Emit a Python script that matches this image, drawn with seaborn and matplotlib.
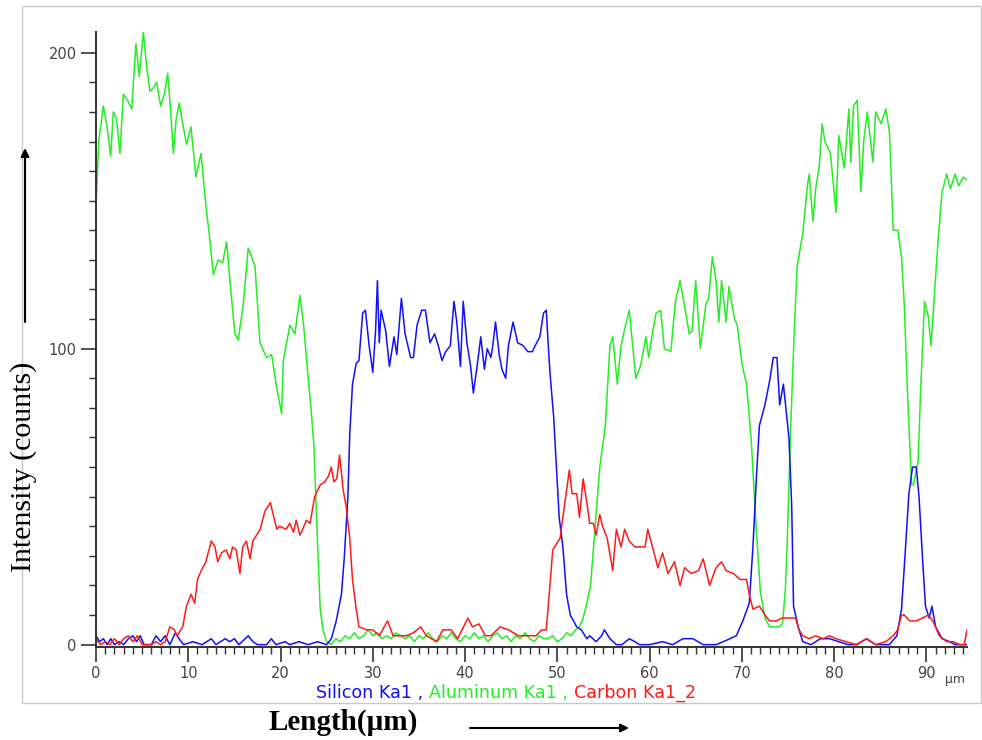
import matplotlib
matplotlib.use("Agg")
import matplotlib.pyplot as plt
import seaborn as sns
import pandas as pd
from matplotlib.patches import Rectangle, FancyArrowPatch
from matplotlib.ticker import MultipleLocator

# ---------------- data ----------------
al_x = [0.0, 0.3, 0.79, 1.2, 1.59, 1.88, 2.2, 2.6, 2.96, 3.4, 3.87, 4.33, 4.69, 5.13, 5.5, 5.85, 6.2, 6.57,
        7.01, 7.4, 7.77, 8.1, 8.38, 8.7, 9.03, 9.4, 9.82, 10.29, 10.83, 11.38, 11.92, 12.3, 12.71, 13.25,
        13.72, 14.16, 14.6, 15.06, 15.42, 15.96, 16.5, 17.23, 17.77, 18.49, 19.03, 19.58, 20.12, 20.3,
        21.02, 21.56, 22.1, 22.5, 23.0, 23.3, 23.62, 24.0, 24.3, 24.6, 25.0, 25.5, 26.0, 26.5, 27.0, 27.5,
        28.0, 28.5, 29.0, 29.5, 30.0, 30.5, 31.0, 31.5, 32.0, 32.5, 33.0, 33.5, 34.0, 34.5, 35.0, 35.5,
        36.0, 36.5, 37.0, 37.5, 38.0, 38.5, 39.0, 39.5, 40.0, 40.5, 41.0, 41.5, 42.0, 42.5, 43.0, 43.5,
        44.0, 44.5, 45.0, 45.5, 46.0, 46.5, 47.0, 47.5, 48.0, 48.5, 49.0, 49.5, 50.0, 50.5, 51.0, 51.5,
        52.0, 52.4, 52.8, 53.2, 53.6, 54.1, 54.6, 55.2, 55.7, 56.0, 56.5, 56.9, 57.4, 57.8, 58.2, 58.5,
        59.0, 59.6, 59.9, 60.3, 60.7, 61.2, 61.6, 62.3, 62.8, 63.3, 63.7, 64.3, 64.6, 65.0, 65.5, 66.1,
        66.4, 66.8, 67.2, 67.5, 67.8, 68.3, 68.6, 69.2, 69.5, 70.0, 70.5, 71.0, 71.5, 72.0, 72.5, 73.0,
        73.5, 74.0, 74.4, 74.7, 74.9, 75.3, 75.7, 76.0, 76.6, 77.1, 77.3, 77.7, 78.0, 78.4, 78.7, 79.0,
        79.3, 79.6, 80.2, 80.5, 81.1, 81.6, 81.8, 82.1, 82.5, 82.9, 83.2, 83.6, 84.2, 84.5, 85.1, 85.6,
        86.0, 86.4, 86.9, 87.3, 87.6, 88.0, 88.4, 88.6, 89.1, 89.4, 89.8, 90.2, 90.5, 90.9, 91.3, 91.7,
        92.2, 92.6, 93.1, 93.5, 94.0, 94.4]
al_y = [148, 170, 182, 175, 165, 180, 178, 166, 186, 184, 181, 203, 192, 207, 195, 187, 188, 190,
        182, 186, 193, 180, 166, 178, 183, 176, 169, 175, 158, 166, 148, 138, 125, 130,
        129, 136, 120, 105, 103, 115, 134, 128, 102, 97, 98, 87, 78, 96,
        108, 105, 118, 108, 90, 80, 67, 35, 12, 5, 1, 0, 2, 1, 3, 2,
        4, 2, 3, 5, 3, 4, 2, 3, 2, 4, 3, 2, 3, 1, 3, 2,
        4, 2, 1, 3, 2, 4, 2, 1, 3, 2, 4, 2, 3, 1, 3, 4,
        2, 3, 1, 3, 2, 4, 2, 1, 3, 2, 2, 3, 1, 2, 4, 3,
        5, 6, 9, 14, 20, 40, 60, 74, 101, 104, 88, 101, 108, 113, 100, 90,
        94, 104, 97, 105, 112, 113, 100, 99, 116, 123, 116, 105, 106, 123, 100, 115,
        117, 131, 123, 109, 123, 109, 121, 110, 108, 95, 88, 70, 42, 18, 9, 6,
        6, 6, 7, 18, 33, 74, 108, 128, 139, 155, 159, 143, 154, 162, 176, 170,
        168, 166, 146, 172, 161, 181, 163, 182, 184, 153, 170, 180, 163, 180, 176, 181,
        173, 140, 140, 131, 115, 81, 54, 54, 62, 88, 116, 111, 101, 120, 138, 153,
        159, 154, 159, 155, 158, 157]

si_x = [0.0, 0.4, 0.8, 1.2, 1.6, 2.0, 2.5, 3.0, 3.5, 4.0, 4.4, 4.8, 5.2, 6.0, 6.5, 7.0, 7.5, 8.0, 8.6,
        9.0, 9.5, 10.5, 11.5, 12.5, 13.0, 14.0, 14.5, 15.0, 15.5, 16.5, 17.0, 17.5, 18.5, 19.0, 19.5,
        20.5, 21.0, 22.0, 23.0, 24.0, 25.0, 25.5, 26.0, 26.6, 26.9, 27.3, 27.5, 27.8, 28.2, 28.5, 28.9,
        29.2, 29.6, 30.0, 30.3, 30.5, 30.7, 30.9, 31.4, 31.8, 32.3, 32.6, 33.1, 33.5, 34.1, 34.4, 34.8,
        35.3, 35.7, 36.2, 36.7, 37.1, 37.5, 37.9, 38.4, 38.8, 39.1, 39.5, 39.8, 40.2, 40.6, 40.9, 41.3,
        41.7, 42.1, 42.4, 42.8, 43.0, 43.3, 43.7, 44.0, 44.4, 44.7, 45.2, 45.7, 46.3, 46.8, 47.3, 47.6,
        48.1, 48.5, 48.8, 49.0, 49.2, 49.6, 49.9, 50.2, 50.6, 51.0, 51.4, 52.1, 52.6, 53.2, 53.5, 54.2,
        54.8, 55.1, 55.7, 56.4, 57.0, 57.8, 58.4, 58.9, 60.0, 61.4, 62.5, 63.6, 64.7, 65.8, 67.2, 68.0,
        68.7, 69.4, 70.1, 70.8, 71.2, 71.6, 71.9, 72.5, 73.0, 73.4, 73.8, 74.1, 74.5, 74.8, 75.1, 75.4,
        75.6, 76.1, 76.6, 77.5, 78.5, 79.5, 80.5, 81.5, 82.5, 83.5, 84.5, 86.0, 86.8, 87.3, 87.6, 88.1,
        88.5, 88.9, 89.2, 89.6, 89.9, 90.3, 90.6, 91.0, 91.7, 92.5, 93.1, 94.4]
si_y = [3, 1, 2, 0, 2, 0, 1, 0, 2, 3, 1, 3, 0, 0, 3, 1, 3, 0, 4,
        2, 0, 1, 0, 2, 0, 2, 1, 2, 0, 3, 1, 0, 0, 2, 0,
        1, 0, 1, 0, 1, 0, 2, 7.5, 17, 29, 50, 71, 88, 95, 96, 112,
        113, 101, 92, 106, 123, 102, 113, 106, 94, 104, 98, 117, 105, 97, 97, 108,
        113, 113, 102, 105, 101, 96, 99, 101, 116, 109, 94, 116, 102, 94, 85, 94,
        104, 93, 100, 97, 101, 109, 98, 93, 90, 101, 109, 102, 101, 99, 99, 101,
        104, 112, 113, 102, 92, 77, 60, 43, 33, 17, 10, 6, 5, 2, 3, 1,
        3, 5, 2, 0, 0, 2, 1, 0, 0, 1, 0, 2, 2, 0, 0, 1,
        2, 3, 8, 14, 33, 58, 74, 81, 89, 97, 97, 81, 88, 79, 70, 47,
        13, 6, 1, 0, 2, 2, 1, 0, 0, 2, 0, 0, 3, 12, 26, 51,
        60, 60, 50, 28, 13, 9, 13, 6, 2, 1, 0, 0]

c_x = [0.0, 0.5, 1.0, 1.5, 2.0, 2.5, 3.0, 3.5, 4.0, 4.5, 5.0, 6.0, 6.5, 7.0, 7.5, 8.0, 8.5, 8.8, 9.4,
       9.8, 10.3, 10.7, 11.0, 11.4, 11.9, 12.5, 12.9, 13.2, 13.6, 14.1, 14.5, 14.8, 15.2, 15.6, 15.9,
       16.3, 16.7, 17.0, 17.4, 17.8, 18.3, 18.9, 19.2, 19.6, 19.9, 20.6, 21.0, 21.4, 21.7, 22.1, 22.4,
       22.8, 23.2, 23.7, 24.3, 24.8, 25.2, 25.5, 25.8, 26.1, 26.4, 26.8, 27.1, 27.5, 27.8, 28.2, 28.5,
       29.3, 30.0, 30.7, 31.6, 32.2, 32.9, 33.6, 34.4, 35.2, 35.8, 36.9, 37.6, 38.5, 39.2, 40.3, 40.8,
       41.5, 42.2, 42.8, 43.8, 44.7, 45.8, 46.9, 47.7, 48.3, 48.8, 49.2, 49.5, 49.7, 50.3, 50.6, 51.0,
       51.3, 51.6, 52.1, 52.4, 52.8, 53.2, 53.5, 53.9, 54.2, 54.6, 54.9, 55.4, 56.0, 56.4, 56.9, 57.3,
       57.8, 58.4, 58.9, 59.5, 59.8, 60.4, 60.9, 61.4, 62.0, 62.7, 63.3, 63.8, 64.5, 65.3, 65.8, 66.5,
       67.2, 67.8, 68.3, 69.1, 69.8, 70.5, 70.8, 71.2, 71.9, 72.5, 73.0, 73.7, 74.4, 75.1, 75.8, 76.2,
       76.6, 77.3, 78.0, 78.8, 79.5, 80.2, 81.3, 82.4, 83.5, 84.5, 85.6, 86.4, 86.9, 87.3, 87.6, 88.2,
       88.9, 89.6, 90.2, 90.7, 91.4, 92.2, 92.9, 93.6, 94.1, 94.4]
c_y = [2, 0, 1, 0, 2, 0, 2, 3, 1, 3, 0, 0, 1, 0, 1, 6, 5, 3, 6,
       13, 17, 14, 22, 25, 28, 35, 33, 28, 31, 32, 29, 33, 32, 24, 33,
       35, 29, 35, 37, 39, 45, 48, 44, 39, 40, 39, 41, 38, 42, 37, 39,
       42, 41, 50, 54, 55, 57, 60, 55, 56, 64, 52, 47, 36, 22, 12, 6,
       5, 5, 3, 8, 3, 3, 3, 4, 6, 3, 1, 5, 5, 2, 9, 6,
       7, 3, 3, 6, 5, 3, 3, 3, 5, 5, 20, 32, 33, 36, 43, 52,
       59, 51, 51, 43, 56, 48, 41, 41, 37, 44, 40, 36, 25, 39, 33, 39,
       35, 33, 33, 33, 39, 32, 26, 31, 24, 28, 20, 26, 24, 25, 29, 20,
       26, 28, 25, 24, 22, 22, 17, 12, 13, 10, 8, 8, 9, 9, 9, 5,
       3, 2, 3, 2, 3, 2, 1, 0, 2, 0, 1, 3, 5, 10, 10, 8,
       8, 9, 10, 8, 3, 1, 1, 0, 0, 5]

x_ticks = [0, 10, 20, 30, 40, 50, 60, 70, 80, 90]
y_ticks = [0, 100, 200]
series_names = ["Silicon Ka1 ,", "Aluminum Ka1 ,", "Carbon Ka1_2"]

# ---------------- styling ----------------
sns.set_theme(style="ticks")
plt.rcParams['font.family'] = ['DejaVu Sans']

W, H = 982, 740
BLUE, GREEN, RED = "#1010ff", "#22ee22", "#ff1a1a"

fig = plt.figure(figsize=(W / 100, H / 100), dpi=100)
fig.patch.set_facecolor("white")

# light gray frame around the whole panel
fig.patches.append(Rectangle((22 / W, 1 - 703 / H), (981 - 22) / W, (703 - 6) / H,
                             transform=fig.transFigure, fill=False, ec="#c8c8c8", lw=1.0))

ax = fig.add_axes([96 / W, 1 - 647 / H, (967 - 96) / W, (647 - 32) / H])
ax.set_facecolor("white")

df_al = pd.DataFrame({"x": al_x, "y": al_y})
df_si = pd.DataFrame({"x": si_x, "y": si_y})
df_c = pd.DataFrame({"x": c_x, "y": c_y})

sns.lineplot(data=df_al, x="x", y="y", color=GREEN, lw=1.1, ax=ax, estimator=None, sort=False)
sns.lineplot(data=df_si, x="x", y="y", color=BLUE, lw=1.1, ax=ax, estimator=None, sort=False)
sns.lineplot(data=df_c, x="x", y="y", color=RED, lw=1.1, ax=ax, estimator=None, sort=False)

ax.set_xlim(0, 94.4)
ax.set_ylim(-0.8, 207)
ax.set_xlabel("")
ax.set_ylabel("")
ax.set_xticks(x_ticks)
ax.set_yticks(y_ticks)
ax.xaxis.set_minor_locator(MultipleLocator(1))
ax.yaxis.set_minor_locator(MultipleLocator(10))
for s in ["top", "right"]:
    ax.spines[s].set_visible(False)
for s in ["left", "bottom"]:
    ax.spines[s].set_color("#333333")
    ax.spines[s].set_linewidth(1.4)
ax.tick_params(which="both", bottom=True, left=True, direction="out", color="#333333")
ax.tick_params(which="major", length=11, width=1.2, labelsize=10.5, labelcolor="#444444", pad=3)
ax.tick_params(which="minor", length=5, width=1.0)

# unit text below axis
fig.text(965 / W, 1 - 680 / H, "µm", ha="right", va="center", fontsize=9, color="#444444")

# coloured legend line
fig.canvas.draw()
renderer = fig.canvas.get_renderer()
cols = [BLUE, GREEN, RED]
texts = []
widths = []
for name, c in zip(series_names, cols):
    t = fig.text(0, 1 - 693 / H, name + " ", color=c, fontsize=12.6, va="center", ha="left")
    texts.append(t)
    widths.append(t.get_window_extent(renderer).width)
total = sum(widths)
xstart = 509 - total / 2
for t, w in zip(texts, widths):
    t.set_x(xstart / W)
    xstart += w

# axis labels
fig.text(24 / W, 1 - 467 / H, "Intensity (counts)", rotation=90, fontsize=21.5,
         family=["Liberation Serif", "DejaVu Serif"], ha="center", va="center", color="black")
fig.text(343 / W, 1 - 722 / H, "Length(µm)", fontsize=21, weight="bold",
         family=["Liberation Serif", "DejaVu Serif"], ha="center", va="center", color="black")

# arrows
fig.patches.append(FancyArrowPatch((25 / W, 1 - 322 / H), (25 / W, 1 - 148 / H),
                                   transform=fig.transFigure, arrowstyle="-|>", mutation_scale=12,
                                   color="black", lw=1.5, shrinkA=0, shrinkB=0))
fig.patches.append(FancyArrowPatch((470 / W, 1 - 728 / H), (629 / W, 1 - 728 / H),
                                   transform=fig.transFigure, arrowstyle="-|>", mutation_scale=12,
                                   color="black", lw=1.5, shrinkA=0, shrinkB=0))

fig.savefig("out.png", dpi=100)
